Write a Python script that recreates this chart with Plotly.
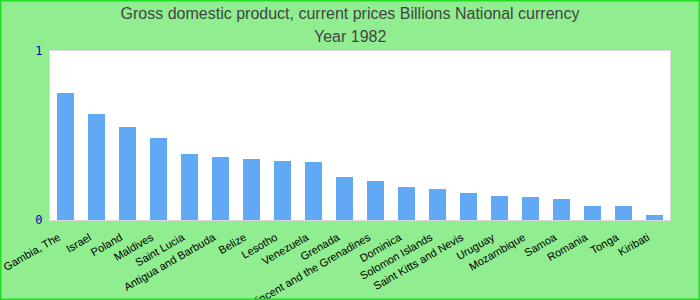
import plotly.graph_objects as go

countries = ["Gambia, The", "Israel", "Poland", "Maldives", "Saint Lucia",
             "Antigua and Barbuda", "Belize", "Lesotho", "Venezuela", "Grenada",
             "Saint Vincent and the Grenadines", "Dominica", "Solomon Islands",
             "Saint Kitts and Nevis", "Uruguay", "Mozambique", "Samoa", "Romania",
             "Tonga", "Kiribati"]
values = [0.751, 0.627, 0.550, 0.485, 0.391, 0.373, 0.361, 0.349, 0.343, 0.254,
          0.231, 0.195, 0.183, 0.160, 0.142, 0.136, 0.124, 0.083, 0.083, 0.030]
title_line1 = "Gross domestic product, current prices Billions National currency"
title_line2 = "Year 1982"

W, H = 700, 300
ml, mr, mt, mb = 50, 30, 51, 80
pw, ph = W - ml - mr, H - mt - mb

fig = go.Figure(go.Bar(x=countries, y=values, marker_color="#62a9f5",
                       marker_line_width=0))
fig.update_layout(
    width=W, height=H,
    margin=dict(l=ml, r=mr, t=mt, b=mb, autoexpand=False),
    paper_bgcolor="#90ee90", plot_bgcolor="white",
    bargap=0.45,
    title=dict(text=title_line1, x=0.5, xanchor="center", xref="container",
               yref="container", y=1 - 13 / H, yanchor="middle",
               font=dict(family="Liberation Sans", size=16, color="#444444")),
    showlegend=False,
)
fig.add_annotation(text=title_line2, xref="paper", yref="paper",
                   x=(350 - ml) / pw, y=1 + (mt - 36) / ph,
                   xanchor="center", yanchor="middle", showarrow=False,
                   font=dict(family="Liberation Sans", size=16, color="#444444"))
fig.update_xaxes(tickangle=-30, tickfont=dict(family="Liberation Sans", size=11, color="black"),
                 ticklabelstandoff=6, ticklabelshift=-7,
                 showline=True, linecolor="#d9d9d9", linewidth=1, mirror=True,
                 ticks="", showgrid=False, automargin=False)
fig.update_yaxes(range=[0, 1], tickvals=[0, 1], ticktext=["0", "1"],
                 tickfont=dict(family="DejaVu Sans Mono", size=12, color="#0000aa"),
                 ticklabelstandoff=4,
                 showline=True, linecolor="#d9d9d9", linewidth=1, mirror=True,
                 showgrid=False, zeroline=False, ticks="", automargin=False)
fig.add_shape(type="rect", xref="paper", yref="paper",
              x0=-ml / pw + 0.5 / pw, x1=1 + (mr - 0.5) / pw,
              y0=-mb / ph + 0.5 / ph, y1=1 + (mt - 0.5) / ph,
              line=dict(color="#22dd22", width=2), fillcolor="rgba(0,0,0,0)", layer="above")
fig.write_html("out.html")
